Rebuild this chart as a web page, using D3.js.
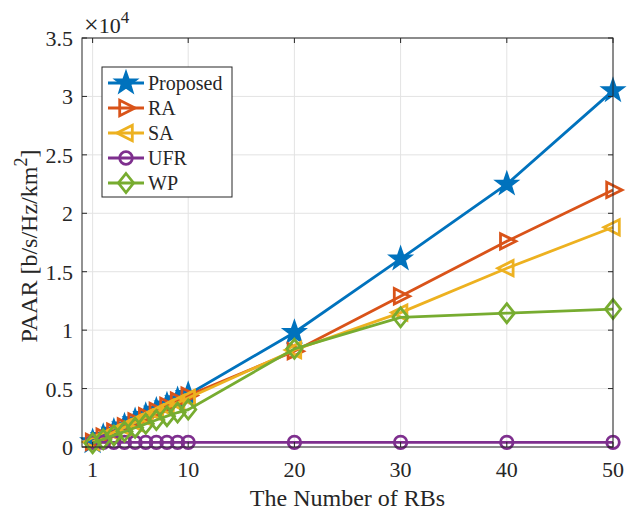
<!DOCTYPE html>
<html><head><meta charset="utf-8">
<script src="https://cdn.jsdelivr.net/npm/d3@7"></script>
<style>body{margin:0;background:#fff}svg{display:block}text{font-family:"Liberation Serif","DejaVu Serif",serif;fill:#262626}</style>
</head><body><svg id="c" width="627" height="510"></svg>
<script>
const xs = [1,2,3,4,5,6,7,8,9,10,20,30,40,50];
const proposed = [450,900,1350,1800,2250,2700,3150,3600,4050,4500,9800,16100,22500,30500];
const ra = [440,880,1320,1760,2200,2640,3080,3520,3960,4400,8200,12900,17600,22000];
const sa = [420,840,1260,1680,2100,2520,2940,3360,3780,4200,8300,11500,15300,18800];
const ufr = [400,400,400,400,400,400,400,400,400,400,400,400,400,400];
const wp = [330,660,990,1320,1650,1980,2310,2640,2950,3200,8400,11100,11450,11800];
const seriesNames = ["Proposed","RA","SA","UFR","WP"];
const xTicks = [1,10,20,30,40,50];
const yTicks = [0,5000,10000,15000,20000,25000,30000,35000];
const yTickLabels = ["0","0.5","1","1.5","2","2.5","3","3.5"];

const colors = ["#0072BD","#D95319","#EDB120","#7E2F8E","#77AC30"];
const markers = ["star","tri-right","tri-left","circle","diamond"];
const data = [proposed, ra, sa, ufr, wp];

const svg = d3.select("#c");
const L=82, R=613, T=38, B=447;
const x = d3.scaleLinear().domain([0,50]).range([L,R]);
const y = d3.scaleLinear().domain([0,35000]).range([B,T]);

// grid
const g = svg.append("g");
g.selectAll(".gx").data(xTicks).enter().append("line")
 .attr("x1",d=>x(d)).attr("x2",d=>x(d)).attr("y1",T).attr("y2",B)
 .attr("stroke","#e3e3e3").attr("stroke-width",1);
g.selectAll(".gy").data(yTicks).enter().append("line")
 .attr("y1",d=>y(d)).attr("y2",d=>y(d)).attr("x1",L).attr("x2",R)
 .attr("stroke","#e3e3e3").attr("stroke-width",1);

function markerPath(type, s){
  const p = d3.path();
  if(type==="star"){
    const ro=s, ri=s*0.4;
    for(let i=0;i<10;i++){
      const a = -Math.PI/2 + i*Math.PI/5;
      const r = i%2===0?ro:ri;
      if(i===0) p.moveTo(r*Math.cos(a), r*Math.sin(a)); else p.lineTo(r*Math.cos(a), r*Math.sin(a));
    }
    p.closePath();
  } else if(type==="tri-right"){
    p.moveTo(s,0); p.lineTo(-s*0.7,-s*0.85); p.lineTo(-s*0.7,s*0.85); p.closePath();
  } else if(type==="tri-left"){
    p.moveTo(-s,0); p.lineTo(s*0.7,-s*0.85); p.lineTo(s*0.7,s*0.85); p.closePath();
  } else if(type==="diamond"){
    p.moveTo(0,-s); p.lineTo(s*0.8,0); p.lineTo(0,s); p.lineTo(-s*0.8,0); p.closePath();
  } else if(type==="circle"){
    p.arc(0,0,s*0.7,0,2*Math.PI);
  }
  return p.toString();
}
const msize = [10,9,9,9,9.5];
const sw = 2.8;

const line = d3.line().x((d,i)=>x(xs[i])).y(d=>y(d));
const plot = svg.append("g");
data.forEach((arr,k)=>{
  plot.append("path").datum(arr).attr("d",line).attr("fill","none")
    .attr("stroke",colors[k]).attr("stroke-width",sw);
  plot.selectAll(".m"+k).data(arr).enter().append("path")
    .attr("transform",(d,i)=>`translate(${x(xs[i])},${y(d)})`)
    .attr("d",markerPath(markers[k],msize[k]))
    .attr("fill",markers[k]==="star"?colors[k]:"none")
    .attr("stroke",colors[k]).attr("stroke-width",sw).attr("stroke-linejoin","miter");
});

// axes box
const axc="#262626";
svg.append("rect").attr("x",L).attr("y",T).attr("width",R-L).attr("height",B-T)
 .attr("fill","none").attr("stroke",axc).attr("stroke-width",1);
const tl=5;
xTicks.forEach(t=>{
  svg.append("line").attr("x1",x(t)).attr("x2",x(t)).attr("y1",B).attr("y2",B-tl).attr("stroke",axc);
  svg.append("line").attr("x1",x(t)).attr("x2",x(t)).attr("y1",T).attr("y2",T+tl).attr("stroke",axc);
  svg.append("text").attr("x",x(t)).attr("y",B+30).attr("text-anchor","middle").attr("font-size",22).text(t);
});
yTicks.forEach((t,i)=>{
  svg.append("line").attr("y1",y(t)).attr("y2",y(t)).attr("x1",L).attr("x2",L+tl).attr("stroke",axc);
  svg.append("line").attr("y1",y(t)).attr("y2",y(t)).attr("x1",R).attr("x2",R-tl).attr("stroke",axc);
  svg.append("text").attr("x",L-9).attr("y",y(t)+8).attr("text-anchor","end").attr("font-size",22).text(yTickLabels[i]);
});
// exponent
const ex = svg.append("text").attr("x",L+2).attr("y",T-5).attr("font-size",22);
ex.append("tspan").attr("font-size",26).text("×");
ex.append("tspan").text("10");
ex.append("tspan").attr("dy",-10).attr("font-size",17).text("4");

// axis labels
svg.append("text").attr("x",(L+R)/2).attr("y",506).attr("text-anchor","middle").attr("font-size",24).text("The Number of RBs");
const yl = svg.append("text").attr("transform",`translate(37,246) rotate(-90)`).attr("text-anchor","middle").attr("font-size",24);
yl.append("tspan").text("PAAR [b/s/Hz/km");
yl.append("tspan").attr("dy",-10).attr("font-size",18).text("2");
yl.append("tspan").attr("dy",10).text("]");

// legend
const lg = svg.append("g");
const lx=102, ly=67, lw=130, lh=130;
lg.append("rect").attr("x",lx).attr("y",ly).attr("width",lw).attr("height",lh).attr("fill","#fff").attr("stroke",axc).attr("stroke-width",1);
seriesNames.forEach((n,k)=>{
  const yy = ly+16+k*25;
  lg.append("line").attr("x1",lx+6).attr("x2",lx+42).attr("y1",yy).attr("y2",yy).attr("stroke",colors[k]).attr("stroke-width",sw);
  lg.append("path").attr("transform",`translate(${lx+24},${yy})`).attr("d",markerPath(markers[k],msize[k]))
    .attr("fill",markers[k]==="star"?colors[k]:"none").attr("stroke",colors[k]).attr("stroke-width",sw);
  lg.append("text").attr("x",lx+46).attr("y",yy+7).attr("font-size",20).text(n);
});
</script></body></html>
